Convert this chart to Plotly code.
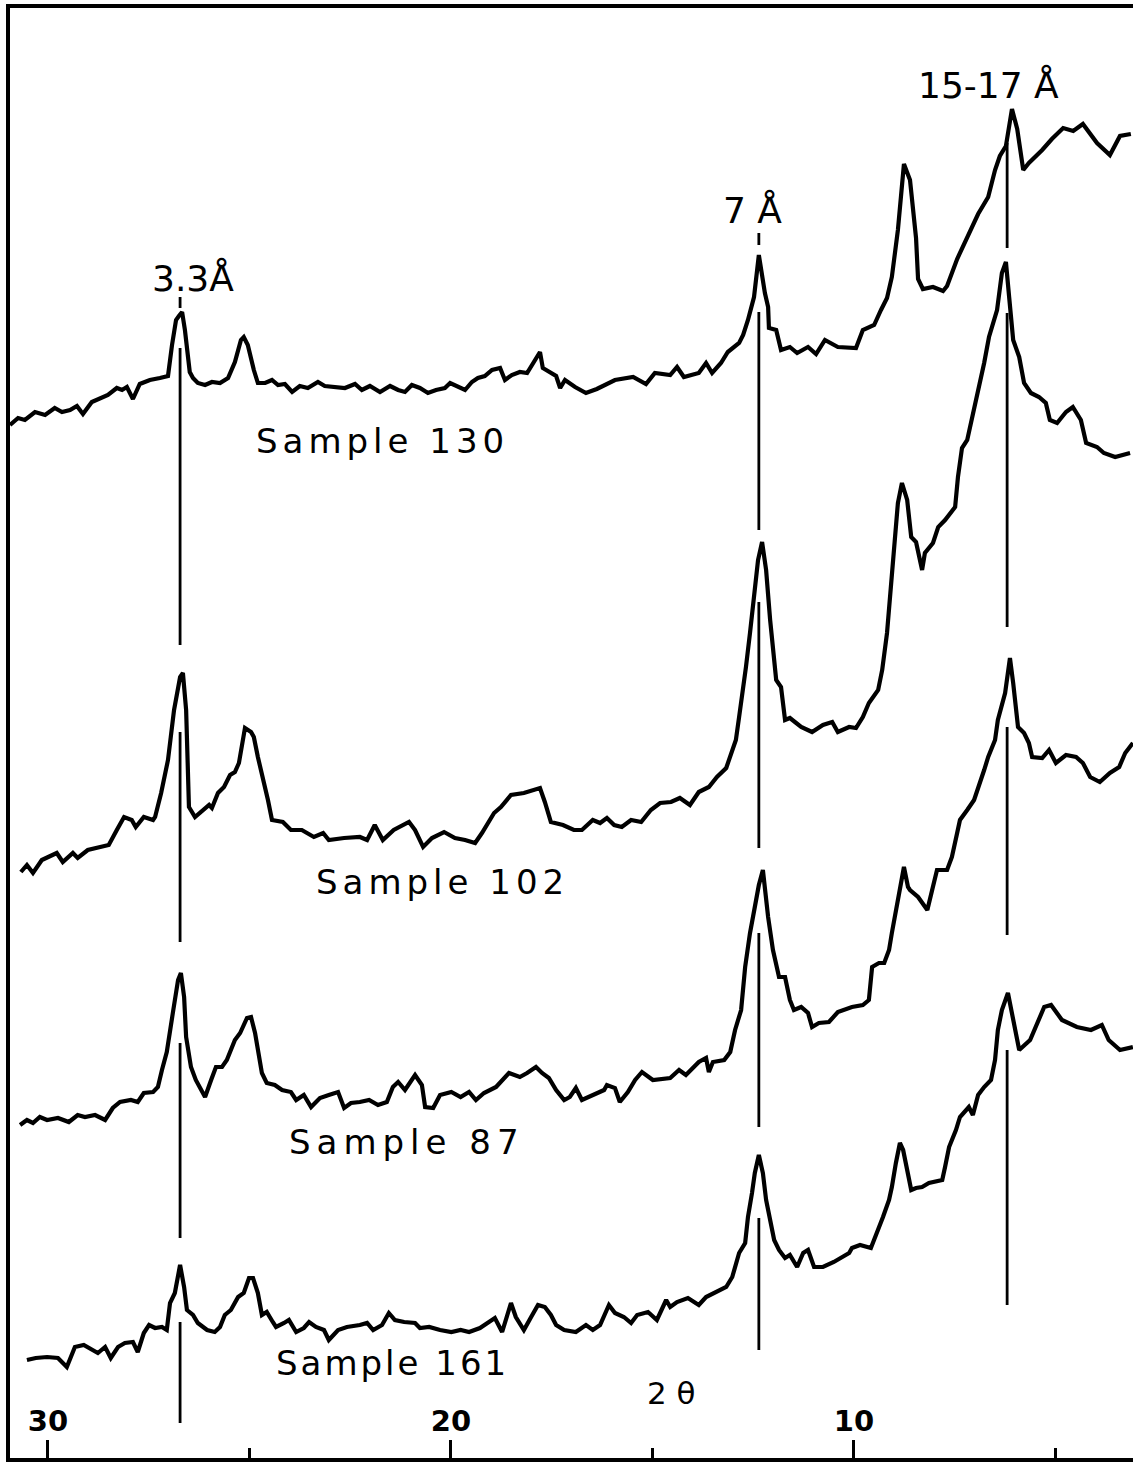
import plotly.graph_objects as go

# ---------------- data (2-theta in degrees, relative intensity incl. stacking offset) -------------
two_theta_130 = [30.94, 30.74, 30.57, 30.32, 30.07, 29.83, 29.65, 29.45, 29.28, 29.13, 28.91, 28.71, 28.51,
                 28.29, 28.16, 28.04, 27.89, 27.72, 27.47, 27.22, 27.02, 26.92, 26.82, 26.75, 26.67, 26.60,
                 26.48, 26.40, 26.28, 26.10, 25.93, 25.73, 25.53, 25.36, 25.21, 25.14, 25.04, 24.89, 24.79,
                 24.61, 24.44, 24.29, 24.12, 23.94, 23.75, 23.55, 23.30, 23.13, 22.88, 22.63, 22.38, 22.21,
                 22.01, 21.76, 21.51, 21.31, 21.14, 20.97, 20.77, 20.57, 20.37, 20.15, 20.02, 19.85, 19.65,
                 19.48, 19.33, 19.16, 18.98, 18.78, 18.66, 18.49, 18.29, 18.11, 17.99, 17.86, 17.79, 17.72,
                 17.54, 17.39, 17.29, 17.17, 16.92, 16.65, 16.38, 15.93, 15.48, 15.16, 14.94, 14.56, 14.39,
                 14.22, 13.85, 13.67, 13.52, 13.30, 13.13, 12.85, 12.75, 12.63, 12.48, 12.36, 12.21, 12.13,
                 12.11, 11.93, 11.81, 11.59, 11.41, 11.14, 10.94, 10.72, 10.40, 9.95, 9.78, 9.50, 9.33,
                 9.18, 9.06, 8.91, 8.76, 8.61, 8.46, 8.41, 8.29, 8.04, 7.79, 7.69, 7.44, 7.19, 6.92, 6.67,
                 6.50, 6.38, 6.23, 6.08, 5.95, 5.80, 5.66, 5.33, 5.09, 4.81, 4.56, 4.32, 4.14, 3.97, 3.65,
                 3.40, 3.13]
counts_130 = [1038, 1045, 1043, 1051, 1048, 1055, 1051, 1053, 1057, 1049, 1061, 1065, 1068,
              1075, 1073, 1076, 1064, 1079, 1083, 1085, 1087, 1118, 1143, 1147, 1151, 1133,
              1091, 1085, 1080, 1078, 1081, 1080, 1085, 1101, 1123, 1126, 1118, 1093, 1080,
              1080, 1083, 1078, 1079, 1071, 1077, 1075, 1081, 1077, 1076, 1075, 1079, 1073,
              1077, 1071, 1077, 1073, 1071, 1078, 1075, 1070, 1073, 1075, 1080, 1077, 1073,
              1081, 1085, 1087, 1093, 1095, 1083, 1088, 1091, 1090, 1098, 1106, 1111, 1095,
              1091, 1087, 1075, 1083, 1076, 1070, 1074, 1083, 1086, 1079, 1090, 1088, 1096,
              1086, 1090, 1100, 1090, 1100, 1111, 1120, 1128, 1143, 1166, 1208, 1170, 1156,
              1135, 1133, 1113, 1116, 1110, 1116, 1109, 1123, 1116, 1115, 1133, 1138, 1153,
              1165, 1186, 1233, 1299, 1283, 1225, 1184, 1174, 1176, 1172, 1177, 1204, 1225, 1249, 1266,
              1293, 1307, 1317, 1354, 1334, 1293, 1300, 1313, 1324, 1335, 1332, 1339, 1329, 1320, 1308,
              1327, 1329]

two_theta_102 = [30.67, 30.52, 30.37, 30.15, 29.78, 29.63, 29.38, 29.26, 29.01, 28.68, 28.49, 28.29, 28.11,
                 27.92, 27.82, 27.62, 27.39, 27.34, 27.19, 27.02, 26.87, 26.72, 26.65, 26.57, 26.50, 26.35,
                 26.15, 26.00, 25.93, 25.78, 25.63, 25.48, 25.36, 25.26, 25.11, 24.96, 24.89, 24.79, 24.54,
                 24.44, 24.17, 23.97, 23.70, 23.40, 23.17, 23.03, 22.65, 22.26, 22.08, 21.89, 21.69, 21.42,
                 21.04, 20.89, 20.69, 20.47, 20.17, 19.90, 19.65, 19.40, 19.23, 18.93, 18.76, 18.51, 18.19,
                 17.79, 17.67, 17.52, 17.22, 16.95, 16.75, 16.48, 16.30, 16.13, 15.95, 15.76, 15.53, 15.28,
                 15.04, 14.81, 14.54, 14.32, 14.07, 13.85, 13.60, 13.40, 13.17, 13.00, 12.93, 12.85, 12.75,
                 12.68, 12.58, 12.48, 12.38, 12.28, 12.18, 12.08, 11.93, 11.81, 11.71, 11.59, 11.31, 11.04,
                 10.77, 10.54, 10.40, 10.12, 9.95, 9.78, 9.63, 9.40, 9.30, 9.18, 9.08, 9.01, 8.91, 8.81,
                 8.68, 8.58, 8.46, 8.31, 8.24, 8.04, 7.91, 7.74, 7.59, 7.49, 7.42, 7.32, 7.19, 7.05, 6.95,
                 6.77, 6.65, 6.45, 6.33, 6.23, 6.15, 6.05, 5.90, 5.78, 5.61, 5.41, 5.24, 5.14, 4.96, 4.74,
                 4.57, 4.37, 4.24, 3.97, 3.80, 3.52, 3.15]
counts_102 = [591, 598, 590, 603, 610, 601, 610, 605, 613, 616, 618, 633, 646,
              643, 636, 646, 643, 646, 670, 703, 753, 786, 790, 753, 656, 646,
              653, 658, 655, 670, 676, 688, 691, 700, 735, 731, 726, 706, 663,
              643, 641, 633, 633, 626, 630, 623, 625, 626, 623, 638, 623, 633,
              641, 633, 616, 625, 631, 625, 623, 620, 630, 650, 656, 668, 670,
              675, 661, 641, 638, 633, 633, 643, 640, 645, 638, 636, 643, 641,
              653, 660, 661, 665, 658, 671, 676, 686, 695, 715, 723, 746, 773,
              796, 830, 863, 903, 921, 893, 843, 783, 776, 743, 745, 736, 731,
              738, 741, 731, 736, 735, 746, 760, 773, 793, 830, 876, 916, 960, 980,
              963, 926, 921, 893, 910, 920, 936, 943, 950, 956, 986, 1015, 1023, 1048, 1066,
              1100, 1126, 1153, 1190, 1201, 1166, 1123, 1106, 1080, 1070, 1066, 1060, 1043, 1040, 1051,
              1056, 1043, 1020, 1016, 1010, 1006, 1010]

two_theta_87 = [30.69, 30.52, 30.37, 30.20, 30.02, 29.75, 29.48, 29.26, 29.08, 28.83, 28.58, 28.39, 28.21,
                27.94, 27.77, 27.62, 27.39, 27.27, 27.17, 27.05, 26.90, 26.77, 26.70, 26.62, 26.57, 26.45,
                26.33, 26.18, 26.10, 25.95, 25.83, 25.68, 25.56, 25.36, 25.23, 25.06, 24.96, 24.86, 24.69,
                24.57, 24.37, 24.19, 23.97, 23.84, 23.65, 23.47, 23.25, 23.03, 22.80, 22.65, 22.48, 22.26,
                22.03, 21.81, 21.59, 21.44, 21.31, 21.14, 20.89, 20.72, 20.64, 20.44, 20.27, 19.99, 19.76,
                19.55, 19.38, 19.18, 18.88, 18.56, 18.29, 18.11, 17.89, 17.74, 17.57, 17.39, 17.19, 17.05,
                16.90, 16.75, 16.48, 16.20, 16.13, 15.93, 15.81, 15.61, 15.43, 15.26, 14.99, 14.56, 14.34,
                14.17, 13.85, 13.67, 13.60, 13.50, 13.22, 13.07, 12.95, 12.80, 12.70, 12.58, 12.46, 12.36,
                12.26, 12.13, 12.01, 11.86, 11.71, 11.59, 11.49, 11.31, 11.14, 11.04, 10.87, 10.62, 10.40,
                10.05, 9.78, 9.63, 9.55, 9.38, 9.25, 9.13, 9.06, 8.88, 8.76, 8.66, 8.61, 8.41, 8.18, 8.06,
                7.94, 7.69, 7.57, 7.44, 7.37, 7.19, 7.02, 6.77, 6.67, 6.50, 6.43, 6.25, 6.13, 6.05, 5.93,
                5.78, 5.66, 5.58, 5.33, 5.16, 4.99, 4.74, 4.49, 4.32, 4.14, 3.90, 3.65, 3.42, 3.27, 3.08]
counts_87 = [338, 343, 340, 346, 343, 345, 341, 348, 346, 348, 343, 355, 361,
             363, 361, 370, 371, 376, 393, 411, 450, 483, 490, 466, 426, 396,
             383, 371, 366, 383, 396, 396, 403, 423, 430, 445, 446, 430, 390,
             380, 378, 373, 371, 363, 368, 356, 365, 368, 371, 355, 360, 361,
             363, 358, 361, 376, 381, 373, 388, 378, 356, 355, 368, 371, 366,
             371, 363, 370, 376, 390, 386, 390, 396, 390, 385, 373, 363, 366,
             375, 363, 368, 373, 378, 375, 361, 371, 383, 391, 383, 385, 393,
             388, 401, 405, 391, 401, 403, 411, 433, 453, 496, 530, 556, 578,
             593, 546, 513, 486, 486, 463, 453, 456, 450, 436, 440, 441, 451,
             456, 458, 463, 496, 500, 500, 513, 530, 570, 596, 576, 573, 566, 553, 573,
             593, 593, 606, 630, 643, 653, 663, 693, 706, 723, 743, 770, 805, 780, 736,
             730, 720, 706, 705, 713, 700, 708, 706, 700, 686, 681, 690, 696, 710, 720]

two_theta_161 = [30.52, 30.30, 30.02, 29.75, 29.53, 29.33, 29.11, 28.88, 28.76, 28.58, 28.44, 28.26, 28.09,
                 27.89, 27.77, 27.62, 27.49, 27.34, 27.17, 27.05, 26.97, 26.85, 26.72, 26.62, 26.55, 26.40,
                 26.28, 26.05, 25.86, 25.73, 25.61, 25.46, 25.28, 25.14, 25.01, 24.91, 24.79, 24.69, 24.57,
                 24.42, 24.34, 24.14, 24.02, 23.84, 23.65, 23.52, 23.35, 23.15, 23.03, 22.80, 22.58, 22.26,
                 22.08, 21.93, 21.71, 21.54, 21.39, 21.16, 20.89, 20.77, 20.54, 20.27, 19.99, 19.76, 19.55,
                 19.28, 19.11, 18.91, 18.73, 18.61, 18.51, 18.39, 18.19, 18.01, 17.84, 17.67, 17.52, 17.39,
                 17.19, 16.90, 16.65, 16.48, 16.30, 16.08, 15.93, 15.71, 15.53, 15.38, 15.11, 14.89, 14.66,
                 14.56, 14.39, 14.12, 13.85, 13.67, 13.40, 13.17, 13.02, 12.85, 12.70, 12.63, 12.53, 12.46,
                 12.36, 12.26, 12.18, 12.08, 11.98, 11.86, 11.71, 11.59, 11.41, 11.26, 11.14, 10.99, 10.77,
                 10.50, 10.32, 10.12, 10.05, 9.85, 9.58, 9.50, 9.40, 9.28, 9.13, 9.06, 8.96, 8.86, 8.78,
                 8.68, 8.58, 8.46, 8.31, 8.14, 7.81, 7.74, 7.64, 7.47, 7.37, 7.15, 7.05, 6.92, 6.77, 6.60,
                 6.50, 6.43, 6.33, 6.18, 6.05, 5.90, 5.63, 5.28, 5.11, 4.84, 4.47, 4.12, 3.85, 3.68, 3.40,
                 3.08]
counts_161 = [103, 105, 106, 105, 96, 116, 118, 113, 110, 116, 105, 116, 120,
              121, 111, 130, 138, 135, 136, 133, 160, 170, 198, 176, 153, 148,
              140, 133, 131, 136, 148, 153, 166, 170, 185, 185, 170, 148, 151,
              141, 136, 140, 143, 131, 135, 141, 136, 133, 123, 133, 136, 138,
              140, 133, 138, 150, 143, 141, 140, 135, 136, 133, 131, 133, 131,
              135, 140, 145, 131, 148, 160, 146, 133, 146, 158, 156, 148, 138,
              133, 131, 138, 133, 138, 158, 150, 146, 140, 148, 151, 143, 163,
              156, 161, 165, 158, 166, 171, 176, 186, 210, 220, 246, 270, 290,
              308, 290, 263, 243, 223, 213, 205, 208, 196, 210, 213, 196, 196,
              201, 205, 210, 215, 218, 215, 223, 233, 246, 263, 276, 300, 320, 313,
              293, 273, 275, 276, 280, 283, 296, 316, 333, 346, 356, 348, 368, 376, 383,
              403, 433, 453, 470, 443, 413, 423, 456, 458, 443, 436, 433, 438, 423, 413,
              416]

sample_names = ["Sample 130", "Sample 102", "Sample 87", "Sample 161"]

# reflection positions (2-theta) and their labels
reflection_2theta = [26.72, 12.36, 6.20]
reflection_labels = ["3.3Å", "7 Å", "15-17 Å"]
# vertical marker segments under each reflection, one per sample (intensity from, to)
marker_33 = [(1115, 818), (731, 521), (420, 225), (141, 40)]
marker_7 = [(1151, 933), (861, 615), (530, 336), (245, 113)]
marker_1517 = [(1320, 1215), (1150, 836), (736, 528), (413, 158)]

major_ticks = [30, 20, 10]
major_tick_text = ["30", "20", "10"]
minor_ticks = [25, 15, 5]

# ---------------- figure -------------
FONT = "DejaVu Sans"
fig = go.Figure()

for x, y in [(two_theta_130, counts_130), (two_theta_102, counts_102),
             (two_theta_87, counts_87), (two_theta_161, counts_161)]:
    fig.add_trace(go.Scatter(x=x, y=y, mode="lines",
                             line=dict(color="black", width=4.2),
                             hoverinfo="skip", showlegend=False))

shapes = []
for pos, segs in zip(reflection_2theta, [marker_33, marker_7, marker_1517]):
    for y0, y1 in segs:
        shapes.append(dict(type="line", xref="x", yref="y", x0=pos, x1=pos, y0=y0, y1=y1,
                           line=dict(color="black", width=2.8)))
# short dashes under the reflection labels
shapes.append(dict(type="line", xref="x", yref="y", x0=reflection_2theta[0], x1=reflection_2theta[0],
                   y0=1155, y1=1166, line=dict(color="black", width=2.8)))
shapes.append(dict(type="line", xref="x", yref="y", x0=reflection_2theta[1], x1=reflection_2theta[1],
                   y0=1218, y1=1230, line=dict(color="black", width=2.8)))

annotations = []
label_pos = [(26.40, 1185), (12.53, 1253), (6.67, 1378)]
for (lx, ly), txt in zip(label_pos, reflection_labels):
    annotations.append(dict(x=lx, y=ly, xref="x", yref="y", text=txt, showarrow=False,
                            font=dict(family=FONT, size=36, color="black"),
                            xanchor="center", yanchor="middle"))

sample_pos = [(21.71, 1022, 5), (20.20, 581, 5), (21.09, 321, 6), (21.46, 100, 3)]
for (sx, sy, sp), name in zip(sample_pos, sample_names):
    annotations.append(dict(x=sx, y=sy, xref="x", yref="y",
                            text=f'<span style="letter-spacing:{sp}px">{name}</span>',
                            showarrow=False, font=dict(family=FONT, size=34, color="black"),
                            xanchor="center", yanchor="middle"))

annotations.append(dict(x=14.52, y=70, xref="x", yref="y", text="2 θ", showarrow=False,
                        font=dict(family=FONT, size=31, color="black"),
                        xanchor="center", yanchor="middle"))

fig.update_layout(
    width=1133, height=1463,
    margin=dict(l=10, r=0, t=8, b=5, pad=0),
    paper_bgcolor="white", plot_bgcolor="white",
    shapes=shapes, annotations=annotations,
    xaxis=dict(range=[30.94, 3.077], showgrid=False, zeroline=False,
               showline=True, linecolor="black", linewidth=3.5, mirror=True,
               tickmode="array", tickvals=major_ticks, ticktext=major_tick_text,
               ticks="inside", ticklen=18, tickwidth=2.5, tickcolor="black",
               ticklabelposition="inside", ticklabelstandoff=6,
               tickfont=dict(family=FONT, size=29, color="black", weight="bold"),
               minor=dict(tickmode="array", tickvals=minor_ticks, ticks="inside",
                          ticklen=10, tickwidth=2.5, tickcolor="black", showgrid=False)),
    yaxis=dict(range=[5, 1455], showgrid=False, zeroline=False, showticklabels=False,
               showline=True, linecolor="black", linewidth=4, ticks=""),
)

fig.write_html("out.html", config={"displayModeBar": False},
               post_script="document.body.style.margin='0px';document.body.style.overflow='hidden';")
